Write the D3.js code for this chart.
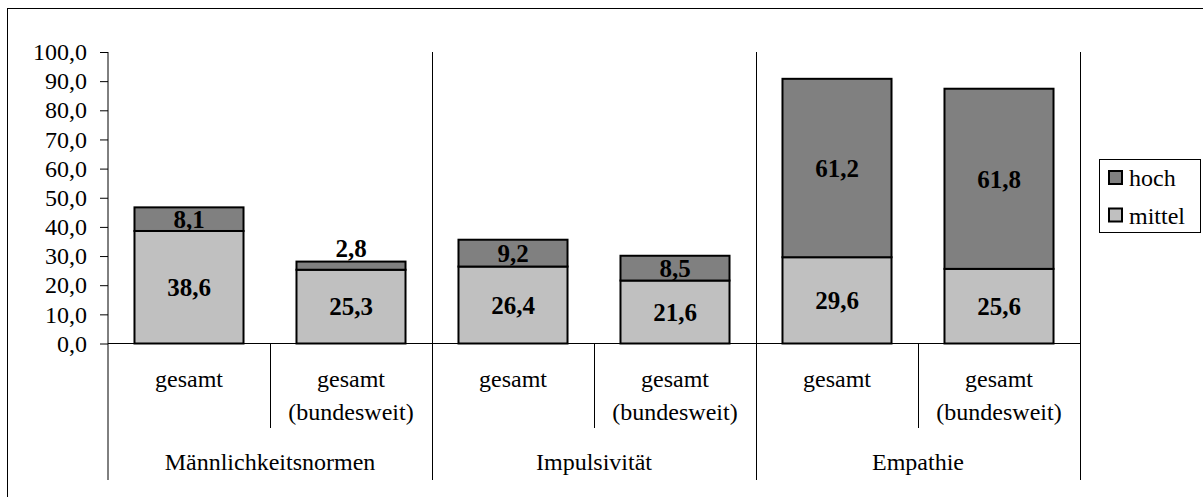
<!DOCTYPE html>
<html>
<head>
<meta charset="utf-8">
<script src="https://cdn.jsdelivr.net/npm/d3@7"></script>
<style>
  body { margin: 0; background: #fff; }
</style>
</head>
<body>
<svg id="chart" width="1203" height="497"></svg>
<script>
// data
const groups = ['Männlichkeitsnormen', 'Impulsivität', 'Empathie']
const subLabels = ['gesamt', 'gesamt (bundesweit)']
const mittel = [38.6, 25.3, 26.4, 21.6, 29.6, 25.6]
const hoch = [8.1, 2.8, 9.2, 8.5, 61.2, 61.8]
const yTicks = [0, 10, 20, 30, 40, 50, 60, 70, 80, 90, 100]
const seriesNames = ['hoch', 'mittel']
const seriesColors = ['#808080', '#c0c0c0']

let dimensions = {
  left: 108,
  right: 1080,
  top: 52,
  bottom: 343.5
}
const fs = '24px'
const fsBold = '25px'
const serif = '"Liberation Serif"'

let svg = d3.select('#chart')

// outer frame (runs off the picture on right / bottom)
svg.append('rect')
  .attr('x', 7.5).attr('y', 8.5)
  .attr('width', 1210).attr('height', 510)
  .attr('fill', 'none').attr('stroke', '#000')

let bars = []
groups.forEach((g, gi) => {
  subLabels.forEach((s, si) => {
    let i = gi * 2 + si
    bars.push({ id: i, group: g, sub: s, mittel: mittel[i], hoch: hoch[i] })
  })
})

let xScale = d3.scaleBand()
  .domain(bars.map(d => d.id))
  .range([dimensions.left, dimensions.right])
  .padding(0)

let yScale = d3.scaleLinear()
  .domain([0, 100])
  .range([dimensions.bottom, dimensions.top])

let barW = xScale.bandwidth() * 0.673
let barX = d => xScale(d.id) + (xScale.bandwidth() - barW) / 2

// y axis
let yAxisgen = d3.axisLeft(yScale)
  .tickValues(yTicks)
  .tickSize(8)
  .tickPadding(13)
  .tickFormat(d => d3.format('.1f')(d).replace('.', ','))

let yAxis = svg.append('g')
  .attr('transform', `translate(${dimensions.left},0)`)
  .call(yAxisgen)
yAxis.select('.domain').remove()
yAxis.selectAll('line').attr('stroke', '#000')
yAxis.selectAll('text')
  .style('font-family', serif)
  .style('font-size', fs)
  .attr('fill', '#000')

// axis lines
svg.append('line')
  .attr('x1', dimensions.left).attr('x2', dimensions.left)
  .attr('y1', yScale(100)).attr('y2', 480)
  .attr('stroke', '#000')
svg.append('line')
  .attr('x1', dimensions.left).attr('x2', dimensions.right)
  .attr('y1', yScale(0)).attr('y2', yScale(0))
  .attr('stroke', '#000')

// separators between sub categories and groups
bars.forEach(d => {
  if (d.id == 0) return
  let x = Math.round(xScale(d.id)) + 0.5
  svg.append('line')
    .attr('x1', x).attr('x2', x)
    .attr('y1', yScale(0)).attr('y2', 428)
    .attr('stroke', '#000')
})
groups.forEach((g, gi) => {
  let x = Math.round(xScale(gi * 2 + 1) + xScale.bandwidth()) + 0.5
  svg.append('line')
    .attr('x1', x).attr('x2', x)
    .attr('y1', yScale(100)).attr('y2', 480)
    .attr('stroke', '#000')
})

// bars
let barG = svg.selectAll('.bar')
  .data(bars)
  .enter()
  .append('g')

barG.append('rect')
  .attr('x', barX)
  .attr('y', d => yScale(d.mittel))
  .attr('width', barW)
  .attr('height', d => yScale(0) - yScale(d.mittel))
  .attr('fill', seriesColors[1])
  .attr('stroke', '#000')
  .attr('stroke-width', 2)

barG.append('rect')
  .attr('x', barX)
  .attr('y', d => yScale(d.mittel + d.hoch))
  .attr('width', barW)
  .attr('height', d => yScale(d.mittel) - yScale(d.mittel + d.hoch))
  .attr('fill', seriesColors[0])
  .attr('stroke', '#000')
  .attr('stroke-width', 2)

let fmt = v => d3.format('.1f')(v).replace('.', ',')

barG.append('text')
  .attr('x', d => barX(d) + barW / 2)
  .attr('y', d => (yScale(0) + yScale(d.mittel)) / 2)
  .attr('dy', '0.35em')
  .attr('text-anchor', 'middle')
  .style('font-family', serif)
  .style('font-size', fsBold)
  .style('font-weight', 'bold')
  .text(d => fmt(d.mittel))

barG.append('text')
  .attr('x', d => barX(d) + barW / 2)
  .attr('y', d => {
    let segH = yScale(d.mittel) - yScale(d.mittel + d.hoch)
    if (segH < 15) return yScale(d.mittel + d.hoch) - 13
    return (yScale(d.mittel) + yScale(d.mittel + d.hoch)) / 2
  })
  .attr('dy', '0.35em')
  .attr('text-anchor', 'middle')
  .style('font-family', serif)
  .style('font-size', fsBold)
  .style('font-weight', 'bold')
  .text(d => fmt(d.hoch))

// category labels
bars.forEach(d => {
  let cx = xScale(d.id) + xScale.bandwidth() / 2
  let t = svg.append('text')
    .attr('x', cx)
    .attr('y', 387)
    .attr('text-anchor', 'middle')
    .style('font-family', serif)
    .style('font-size', fs)
  let parts = d.sub.split(' ')
  parts.forEach((p, pi) => {
    t.append('tspan').attr('x', cx).attr('dy', pi == 0 ? 0 : 32.5).text(p)
  })
})

groups.forEach((g, gi) => {
  let cx = xScale(gi * 2 + 1)
  svg.append('text')
    .attr('x', cx)
    .attr('y', 470)
    .attr('text-anchor', 'middle')
    .style('font-family', serif)
    .style('font-size', fs)
    .text(g)
})

// legend
let legend = svg.append('g')
legend.append('rect')
  .attr('x', 1099.5).attr('y', 159.5)
  .attr('width', 101).attr('height', 73)
  .attr('fill', '#fff').attr('stroke', '#000')

seriesNames.forEach((s, i) => {
  let y = 178 + i * 37.5
  legend.append('rect')
    .attr('x', 1109).attr('y', y - 7)
    .attr('width', 13).attr('height', 13)
    .attr('fill', seriesColors[i])
    .attr('stroke', '#000')
    .attr('stroke-width', 2)
  legend.append('text')
    .attr('x', 1129)
    .attr('y', y)
    .attr('dy', '0.35em')
    .style('font-family', serif)
    .style('font-size', fs)
    .text(s)
})
</script>
</body>
</html>
